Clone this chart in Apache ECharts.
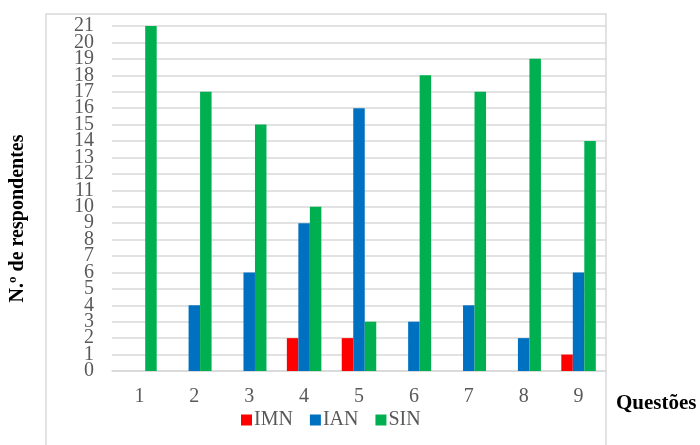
<!DOCTYPE html>
<html>
<head>
<meta charset="utf-8">
<script src="https://cdn.jsdelivr.net/npm/echarts@6/dist/echarts.min.js"></script>
<style>
  html, body { margin: 0; padding: 0; background: #fff; }
  #chart { width: 700px; height: 445px; }
</style>
</head>
<body>
<div id="chart"></div>
<script>
// Questions on the x axis
const questions = ['1', '2', '3', '4', '5', '6', '7', '8', '9'];
// Respondents per answer type
const imn = [0, 0, 0, 2, 2, 0, 0, 0, 1];
const ian = [0, 4, 6, 9, 16, 3, 4, 2, 6];
const sin = [21, 17, 15, 10, 3, 18, 17, 19, 14];
// Value range of the respondents axis
const yMin = 0;
const yMax = 21;
const yStep = 1;

const serif = '"Liberation Serif", "Times New Roman", serif';

const chart = echarts.init(document.getElementById('chart'));

// The tick labels sit tightly packed, so even and odd values are drawn
// by two overlaid axes sharing the same scale; this keeps every label visible.
const labelBase = { fontFamily: serif, fontSize: 20, color: '#595959', margin: 18,
  showMinLabel: true, showMaxLabel: true, hideOverlap: false };

function valueAxis(parity, extra) {
  return Object.assign({
    type: 'value',
    position: 'left',
    min: yMin,
    max: yMax,
    interval: yStep,
    axisLine: { show: false },
    axisTick: { show: false },
    splitLine: { show: false },
    axisLabel: Object.assign({}, labelBase, {
      formatter: v => (Math.round(v) % 2 === parity ? String(v) : '')
    })
  }, extra || {});
}

chart.setOption({
  animation: false,
  backgroundColor: '#fff',
  grid: { left: 112, right: 94, top: 26, bottom: 74, containLabel: false },
  legend: {
    data: ['IMN', 'IAN', 'SIN'],
    left: 236,
    top: 405,
    itemWidth: 11,
    itemHeight: 11,
    itemGap: 17,
    icon: 'rect',
    textStyle: { fontFamily: serif, fontSize: 20, color: '#595959', padding: [0, 0, 0, -3] }
  },
  xAxis: {
    type: 'category',
    data: questions,
    axisLine: { show: true, lineStyle: { color: '#d9d9d9', width: 1.5 } },
    axisTick: { show: false },
    axisLabel: { fontFamily: serif, fontSize: 20, color: '#595959', margin: 16 },
    name: 'Questões',
    nameLocation: 'end',
    nameGap: 10,
    nameTextStyle: { fontFamily: serif, fontSize: 21, fontWeight: 'bold', color: '#000', verticalAlign: 'top', padding: [22, 0, 0, 0] }
  },
  yAxis: [
    valueAxis(0, {
      splitLine: { show: true, lineStyle: { color: '#d9d9d9', width: 1.5 } },
      name: 'N.º de respondentes',
      nameLocation: 'middle',
      nameGap: 84,
      nameRotate: 90,
      nameTextStyle: { fontFamily: serif, fontSize: 20, fontWeight: 'bold', color: '#000', padding: [0, 0, 0, -40] }
    }),
    valueAxis(1)
  ],
  series: [
    { name: 'IMN', type: 'bar', data: imn, barWidth: 11.5, barGap: '0%', itemStyle: { color: '#ff0000' } },
    { name: 'IAN', type: 'bar', data: ian, barWidth: 11.5, barGap: '0%', itemStyle: { color: '#0070c0' } },
    { name: 'SIN', type: 'bar', data: sin, barWidth: 11.5, barGap: '0%', itemStyle: { color: '#00b050' } }
  ],
  graphic: [
    {
      type: 'rect',
      shape: { x: 46, y: 14, width: 560, height: 460 },
      style: { fill: 'none', stroke: '#d9d9d9', lineWidth: 1.5 },
      silent: true,
      z: -1
    }
  ]
});
</script>
</body>
</html>
